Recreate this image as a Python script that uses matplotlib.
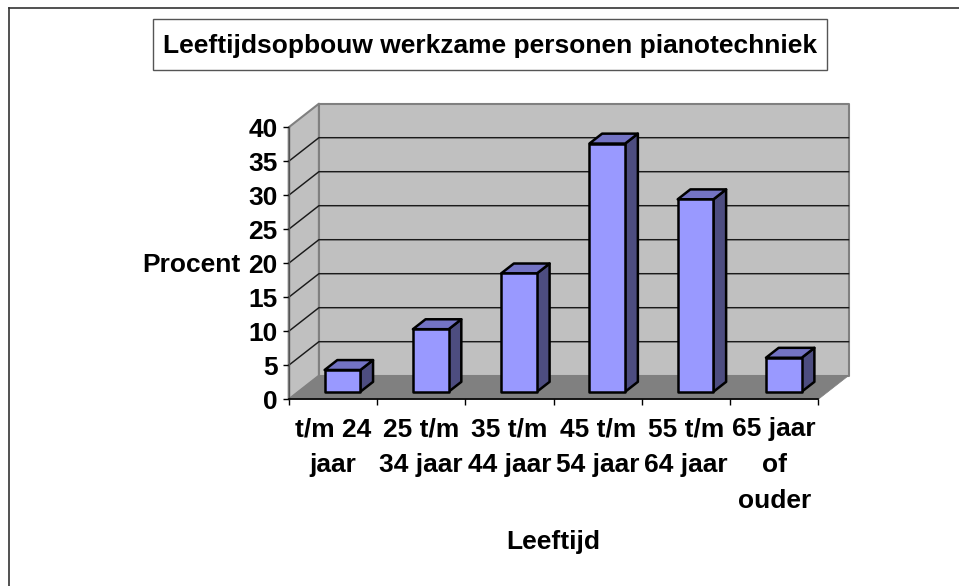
import matplotlib
matplotlib.use("Agg")
import matplotlib.pyplot as plt
from matplotlib.patches import Polygon, Rectangle
from matplotlib.lines import Line2D

title = "Leeftijdsopbouw werkzame personen pianotechniek"
categories = ["t/m 24\njaar", "25 t/m\n34 jaar", "35 t/m\n44 jaar", "45 t/m\n54 jaar", "55 t/m\n64 jaar", "65 jaar\nof\nouder"]
values = [3.2, 9.2, 17.4, 36.5, 28.3, 5.0]
y_ticks = [0, 5, 10, 15, 20, 25, 30, 35, 40]
x_label = "Leeftijd"
y_label = "Procent"

W, H = 959, 586
plt.rcParams['font.family'] = ['Liberation Sans', 'DejaVu Sans']
fig = plt.figure(figsize=(W / 100, H / 100), dpi=100, facecolor="white")

# front plane of the oblique chart box
L, R, Y0, Y40 = 288.7, 818.3, 399.3, 127.3
ax = fig.add_axes([L / W, 1 - Y0 / H, (R - L) / W, (Y0 - Y40) / H])
ax.set_xlim(0, 6)
ax.set_ylim(0, 40)
ax.patch.set_visible(False)

DX = 30.2 / ((R - L) / 6)   # full depth in category units
DY = 23.6 / ((Y0 - Y40) / 40)  # full depth in value units

def P(x, y, d=0.0):
    return (x + d * DX, y + d * DY)

def poly(pts, fc, ec="none", lw=0, z=1):
    ax.add_patch(Polygon(pts, closed=True, fc=fc, ec=ec, lw=lw, zorder=z, clip_on=False, joinstyle="round"))

WALL, FLOOR, EDGE = "#C0C0C0", "#808080", "#808080"
poly([P(0, 0, 1), P(6, 0, 1), P(6, 40, 1), P(0, 40, 1)], WALL, EDGE, 1.5)
poly([P(0, 0, 0), P(0, 0, 1), P(0, 40, 1), P(0, 40, 0)], WALL, EDGE, 1.5)
poly([P(0, 0, 0), P(6, 0, 0), P(6, 0, 1), P(0, 0, 1)], FLOOR, FLOOR, 0.5, 1.5)

for v in y_ticks[1:-1]:
    ax.plot(*zip(P(0, v, 0), P(0, v, 1), P(6, v, 1)), color="#1a1a1a", lw=1.05, zorder=2, clip_on=False)

FRONT, TOP, SIDE = "#9999FF", "#7373C4", "#4D4D80"
BW, D1, D2 = 0.405, 0.32, 0.74
for i, v in enumerate(values):
    x0, x1 = i + 0.5 - BW / 2, i + 0.5 + BW / 2
    kw = dict(ec="black", lw=1.8, z=3 + i)
    poly([P(x1, 0, D1), P(x1, 0, D2), P(x1, v, D2), P(x1, v, D1)], SIDE, **kw)
    poly([P(x0, v, D1), P(x1, v, D1), P(x1, v, D2), P(x0, v, D2)], TOP, **kw)
    poly([P(x0, 0, D1), P(x1, 0, D1), P(x1, v, D1), P(x0, v, D1)], FRONT, **kw)

for s in ("top", "right"):
    ax.spines[s].set_visible(False)
ax.spines["left"].set_color("#555555")
ax.spines["bottom"].set_color("black")
ax.spines["bottom"].set_linewidth(1.2)
ax.spines["left"].set_linewidth(1.0)
ax.set_yticks(y_ticks)
ax.set_xticks(range(7))
ax.set_xticklabels([])
ax.set_xticks([i + 0.5 for i in range(6)], categories, minor=True, fontweight="bold", fontsize=19, linespacing=1.63)
ax.tick_params(axis="x", which="major", length=4.3, width=1, color="black")
ax.tick_params(axis="x", which="minor", length=0, pad=13)
ax.tick_params(axis="y", length=4.3, width=1, color="black", pad=3.6, labelsize=19)
for t in ax.get_yticklabels():
    t.set_fontweight("bold")

fig.text(553 / W, 1 - 542 / H, x_label, ha="center", va="center", fontsize=19, fontweight="bold")
fig.text(191.5 / W, 1 - 264.5 / H, y_label, ha="center", va="center", fontsize=19, fontweight="bold")
fig.text(490 / W, 1 - 45.5 / H, title, ha="center", va="center", fontsize=19, fontweight="bold", zorder=6)
fig.add_artist(Rectangle((153 / W, 1 - 69.5 / H), 674 / W, 50.5 / H, transform=fig.transFigure, fc="white", ec="#555555", lw=1, zorder=5))
fig.add_artist(Line2D([9 / W, 9 / W], [0, 1 - 8 / H], color="#333333", lw=1.2))
fig.add_artist(Line2D([9 / W, 1], [1 - 8 / H, 1 - 8 / H], color="#333333", lw=1.2))

fig.savefig("out.png", dpi=100)
